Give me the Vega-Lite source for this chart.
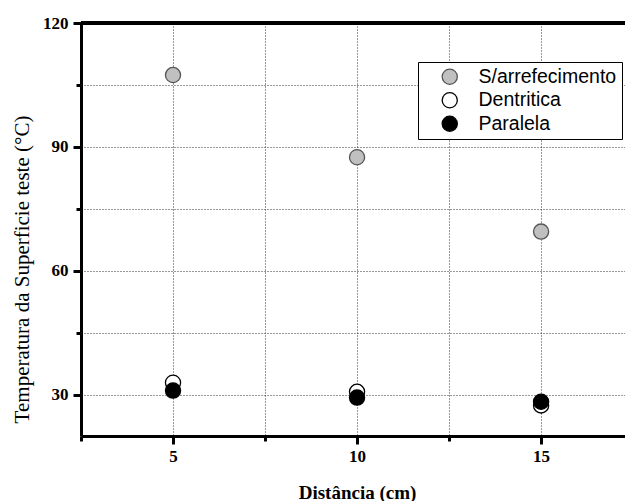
{
  "$schema": "https://vega.github.io/schema/vega-lite/v6.json",
  "autosize": "none",
  "width": 544,
  "height": 413,
  "padding": {"left": 81, "top": 23, "right": 0, "bottom": 65},
  "background": "white",
  "config": {
    "view": {"stroke": null},
    "axis": {
      "domainColor": "black",
      "domainWidth": 3,
      "tickColor": "black",
      "tickWidth": 3,
      "gridColor": "#333",
      "gridDash": [1, 2],
      "gridWidth": 1,
      "labelFont": "Liberation Serif",
      "labelFontWeight": "bold",
      "labelFontSize": 17,
      "labelColor": "black",
      "titleColor": "black",
      "titleFont": "Liberation Serif"
    }
  },
  "data": {
    "values": [
      {"distancia": 5, "temperatura": 107.4, "serie": "S/arrefecimento"},
      {"distancia": 10, "temperatura": 87.5, "serie": "S/arrefecimento"},
      {"distancia": 15, "temperatura": 69.5, "serie": "S/arrefecimento"},
      {"distancia": 5, "temperatura": 32.9, "serie": "Dentritica"},
      {"distancia": 10, "temperatura": 30.7, "serie": "Dentritica"},
      {"distancia": 15, "temperatura": 27.4, "serie": "Dentritica"},
      {"distancia": 5, "temperatura": 31.0, "serie": "Paralela"},
      {"distancia": 10, "temperatura": 29.3, "serie": "Paralela"},
      {"distancia": 15, "temperatura": 28.3, "serie": "Paralela"}
    ]
  },
  "layer": [
    {
      "mark": {"type": "rule", "color": "black", "strokeWidth": 3.5},
      "encoding": {"y": {"datum": 120, "type": "quantitative", "scale": {"domain": [20, 120]}}}
    },
    {
      "mark": {"type": "point", "filled": true, "size": 230, "strokeWidth": 1.3, "opacity": 1},
      "encoding": {
        "x": {
          "field": "distancia",
          "type": "quantitative",
          "scale": {"domain": [2.5, 17.28], "nice": false, "zero": false},
          "axis": {
            "values": [2.5, 5, 7.5, 10, 12.5, 15, 17.5],
            "labelExpr": "datum.value % 5 === 0 ? datum.label : ''",
            "tickSize": {"condition": {"test": "datum.value % 5 === 0", "value": 8}, "value": 5},
            "labelPadding": 4,
            "grid": true,
            "title": "Distância (cm)",
            "titleFontSize": 19,
            "titleFontWeight": "bold",
            "titleX": 276,
            "titleY": 62,
            "titleBaseline": "alphabetic"
          }
        },
        "y": {
          "field": "temperatura",
          "type": "quantitative",
          "scale": {"domain": [20, 120], "nice": false, "zero": false},
          "axis": {
            "values": [30, 45, 60, 75, 90, 105, 120],
            "labelExpr": "datum.value % 30 === 0 ? datum.label : ''",
            "tickSize": {"condition": {"test": "datum.value % 30 === 0", "value": 8}, "value": 5},
            "labelPadding": 5,
            "grid": true,
            "title": "Temperatura da Superficie teste (°C)",
            "titleFontSize": 21,
            "titleFontWeight": "normal",
            "titleAngle": -90,
            "titleX": -59,
            "titleY": 246,
            "titleBaseline": "middle",
            "titleAlign": "center"
          }
        },
        "fill": {
          "field": "serie",
          "type": "nominal",
          "scale": {
            "domain": ["S/arrefecimento", "Dentritica", "Paralela"],
            "range": ["#c0c0c0", "#ffffff", "#000000"]
          },
          "legend": {
            "title": null,
            "orient": "none",
            "legendX": 337,
            "legendY": 39,
            "strokeColor": "black",
            "fillColor": "white",
            "padding": 5,
            "rowPadding": 2.5,
            "symbolSize": 230,
            "symbolStrokeWidth": 1.3,
            "symbolOffset": 17,
            "labelOffset": 19,
            "labelFont": "Liberation Sans",
            "labelFontSize": 19.5,
            "labelColor": "black",
            "labelLimit": 300
          }
        },
        "stroke": {
          "field": "serie",
          "type": "nominal",
          "scale": {
            "domain": ["S/arrefecimento", "Dentritica", "Paralela"],
            "range": ["#555555", "#000000", "#000000"]
          },
          "legend": {
            "title": null,
            "orient": "none",
            "legendX": 337,
            "legendY": 39,
            "strokeColor": "black",
            "fillColor": "white",
            "padding": 5,
            "rowPadding": 2.5,
            "symbolSize": 230,
            "symbolStrokeWidth": 1.3,
            "symbolOffset": 17,
            "labelOffset": 19,
            "labelFont": "Liberation Sans",
            "labelFontSize": 19.5,
            "labelColor": "black",
            "labelLimit": 300
          }
        }
      }
    }
  ]
}
